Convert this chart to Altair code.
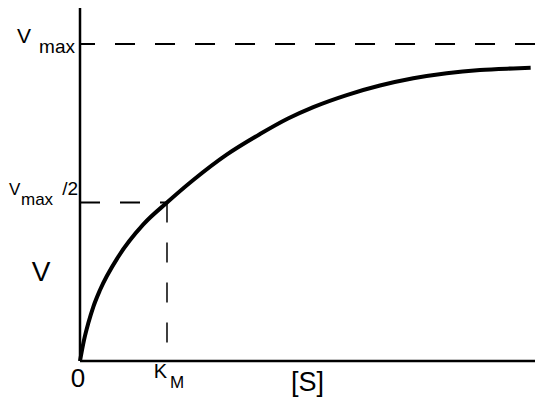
import altair as alt
import pandas as pd

# Michaelis-Menten style curve (S in units of K_M, V in units of Vmax)
S_VALUES = [0, 0.046, 0.095, 0.153, 0.23, 0.44, 0.728, 1.0, 1.302, 1.686, 2.069,
            2.391, 2.682, 3.066, 3.448, 3.831, 4.215, 4.598, 4.98, 5.18]
V_VALUES = [0, 0.066, 0.119, 0.171, 0.224, 0.329, 0.431, 0.5, 0.571, 0.651, 0.716,
            0.765, 0.801, 0.839, 0.869, 0.892, 0.908, 0.918, 0.923, 0.925]

VMAX = 1.0
KM = 1.0
S_MAX = 5.23
V_TOP = 1.1136

VMAX_LABEL = ["V", "max"]
HALF_LABEL = ["V", "max", "/2"]
KM_LABEL = ["K", "M"]
AXIS_LABELS = ["V", "0", "[S]"]

FONT = "Liberation Sans"

xs = alt.Scale(domain=[0, S_MAX], nice=False, zero=False)
ys = alt.Scale(domain=[0, V_TOP], nice=False, zero=False)


def rule(df, dash=None, width=2.0, offset=0):
    kw = dict(color="black", strokeWidth=width)
    if dash:
        kw["strokeDash"] = dash
        kw["strokeDashOffset"] = offset
    enc = dict(x=alt.X("x:Q", scale=xs, axis=None), y=alt.Y("y:Q", scale=ys, axis=None))
    if "x2" in df:
        enc["x2"] = "x2:Q"
    if "y2" in df:
        enc["y2"] = "y2:Q"
    return alt.Chart(df).mark_rule(**kw).encode(**enc)


x_axis = rule(pd.DataFrame({"x": [0], "x2": [S_MAX], "y": [0]}), width=2.5)
y_axis = rule(pd.DataFrame({"x": [0], "y": [0], "y2": [V_TOP]}), width=2.5)

curve_df = pd.DataFrame({"S": S_VALUES, "V": V_VALUES})
curve = alt.Chart(curve_df).mark_line(
    color="black", strokeWidth=4, interpolate="monotone"
).encode(
    x=alt.X("S:Q", scale=xs, axis=None),
    y=alt.Y("V:Q", scale=ys, axis=None),
)

vmax_line = rule(pd.DataFrame({"x": [0], "x2": [S_MAX], "y": [VMAX]}), dash=[20, 20], width=2, offset=5)
half_line = rule(pd.DataFrame({"x": [0], "x2": [KM], "y": [VMAX / 2]}), dash=[20, 20], width=2)
km_line = rule(pd.DataFrame({"x": [KM], "y": [VMAX / 2], "y2": [0]}), dash=[20, 20], width=1.5)


def txt(text, x, y, size, dx, dy, align="left"):
    return alt.Chart(pd.DataFrame({"x": [x], "y": [y], "t": [text]})).mark_text(
        font=FONT, fontSize=size, dx=dx, dy=dy, align=align,
        baseline="alphabetic", color="black"
    ).encode(
        x=alt.X("x:Q", scale=xs, axis=None),
        y=alt.Y("y:Q", scale=ys, axis=None),
        text="t:N",
    )


labels = [
    txt(VMAX_LABEL[0], 0, VMAX, 21, -63, -1),
    txt(VMAX_LABEL[1], 0, VMAX, 19, -5, 9, "right"),
    txt(HALF_LABEL[0], 0, VMAX / 2, 17, -71, -7.5),
    txt(HALF_LABEL[1], 0, VMAX / 2, 17, -59, 2.5),
    txt(HALF_LABEL[2], 0, VMAX / 2, 19, -2, -7.5, "right"),
    txt(AXIS_LABELS[0], 0, 0, 28, -39, -80, "center"),
    txt(AXIS_LABELS[1], 0, 0, 26, -2, 26, "center"),
    txt(KM_LABEL[0], KM, 0, 20, 0, 17, "right"),
    txt(KM_LABEL[1], KM, 0, 17, 3, 27),
    txt(AXIS_LABELS[2], S_MAX / 2, 0, 27, 0, 30, "center"),
]

chart = alt.layer(x_axis, y_axis, vmax_line, half_line, km_line, curve, *labels).properties(
    width=455, height=353,
    autosize=alt.AutoSizeParams(type="none"),
    padding={"left": 72, "top": 0, "right": 1, "bottom": 37},
    background="white",
).configure_view(stroke=None)

chart.save("out.html", embed_options={"renderer": "svg", "actions": False})
